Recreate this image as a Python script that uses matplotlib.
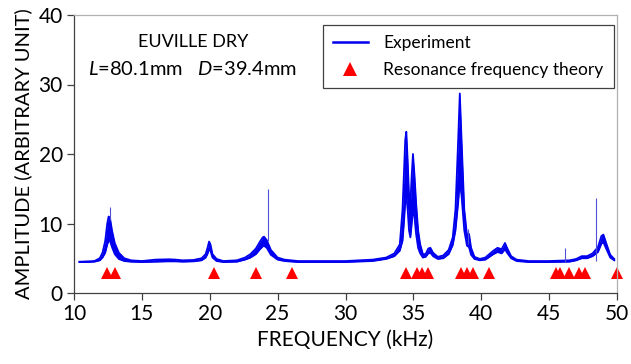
import matplotlib
matplotlib.use("Agg")
import matplotlib.pyplot as plt
from matplotlib.lines import Line2D

plt.rcParams['font.family'] = ['Lato', 'DejaVu Sans']
plt.rcParams['mathtext.fontset'] = 'custom'
plt.rcParams['mathtext.rm'] = 'Lato'
plt.rcParams['mathtext.it'] = 'Lato:italic'

# ---- data ----
freq_kHz = [10.4, 11.0, 11.5, 11.9, 12.1, 12.3, 12.45, 12.55, 12.65, 12.8, 13.0, 13.3, 13.7, 14.2,
            15, 16, 17, 17.5, 18, 18.8, 19.4, 19.7, 19.85, 19.95, 20.05, 20.2, 20.5, 21, 22, 22.6,
            23.0, 23.4, 23.7, 23.9, 24.0, 24.2, 24.5, 25.0, 25.5, 26.5, 28, 30, 32, 33, 33.6, 34.0,
            34.2, 34.3, 34.4, 34.48, 34.58, 34.68, 34.78, 34.88, 34.97, 35.08, 35.2, 35.35, 35.5,
            35.7, 35.9, 36.1, 36.25, 36.45, 36.8, 37.2, 37.6, 37.9, 38.1, 38.3, 38.42, 38.55, 38.75,
            38.95, 39.1, 39.25, 39.5, 39.9, 40.3, 40.6, 40.9, 41.2, 41.5, 41.75, 41.9, 42.2, 42.6,
            43.5, 45, 46.5, 47.0, 47.4, 47.8, 48.2, 48.6, 48.85, 49.0, 49.2, 49.5, 49.8]
amp_upper = [4.5, 4.55, 4.6, 5.0, 5.8, 7.5, 10.0, 11.0, 10.8, 9.0, 7.2, 5.8, 5.0, 4.7,
             4.6, 4.8, 4.85, 4.8, 4.7, 4.75, 5.0, 5.6, 6.6, 7.4, 7.0, 5.6, 4.9, 4.6, 4.7, 5.1,
             5.6, 6.4, 7.4, 8.0, 8.1, 7.6, 6.2, 5.1, 4.8, 4.6, 4.6, 4.6, 4.8, 5.1, 5.7, 7.0,
             12, 17, 22, 23.2, 19, 14, 13, 17, 20, 17, 13, 9, 7,
             5.6, 5.6, 6.4, 6.5, 5.8, 5.2, 5.4, 6.2, 8.0, 12, 22, 28.7, 22, 12,
             8.3, 8.5, 6.5, 5.2, 4.9, 5.1, 5.6, 6.1, 6.5, 6.3, 7.2, 6.5, 5.3, 4.8,
             4.6, 4.6, 4.7, 4.9, 5.3, 5.3, 5.7, 6.6, 8.2, 8.4, 7.2, 5.5, 4.9]
amp_lower = [4.45, 4.45, 4.5, 4.7, 5.1, 5.8, 7.0, 7.5, 7.5, 6.6, 5.6, 4.9, 4.6, 4.5,
             4.45, 4.5, 4.55, 4.55, 4.5, 4.55, 4.7, 5.1, 5.7, 6.3, 6.1, 5.1, 4.6, 4.45, 4.5, 4.8,
             5.1, 5.6, 6.3, 6.7, 6.8, 6.5, 5.5, 4.8, 4.6, 4.45, 4.45, 4.45, 4.6, 4.9, 5.3, 6.1,
             7.5, 10, 13, 14, 12, 9, 8, 10, 12, 11, 8.5, 6.5, 5.7,
             5.1, 5.2, 5.7, 5.8, 5.3, 4.9, 5.0, 5.6, 6.9, 9.0, 13, 16, 14, 9.0,
             6.8, 6.6, 5.5, 4.9, 4.7, 4.8, 5.2, 5.6, 5.9, 5.7, 6.3, 5.8, 5.0, 4.6,
             4.45, 4.45, 4.5, 4.7, 5.0, 5.0, 5.3, 5.9, 7.1, 7.3, 6.4, 5.1, 4.7]

# thin isolated spikes in the measured spectrum
spike_kHz = [12.62, 24.26, 39.05, 46.15, 48.45]
spike_top = [12.4, 15.0, 9.2, 6.5, 13.6]
spike_base = [10.5, 7.5, 7.0, 4.5, 4.6]

# theoretical resonance frequencies
theory_kHz = [12.41, 13.02, 20.32, 23.40, 26.03, 34.48, 35.26, 35.66, 36.05, 38.54, 38.96,
              39.37, 40.55, 45.47, 45.77, 46.50, 47.19, 47.63, 50.0]
theory_amp = [2.9] * len(theory_kHz)

x_ticks = [10, 15, 20, 25, 30, 35, 40, 45, 50]
y_ticks = [0, 10, 20, 30, 40]

# ---- figure ----
fig = plt.figure(figsize=(6.31, 3.64), dpi=100)
ax = fig.add_axes([74/631, 1-293/364, (617-74)/631, (293-15)/364])

blue = '#0000ee'
ax.fill_between(freq_kHz, amp_lower, amp_upper, color=blue, lw=0)
ax.plot(freq_kHz, amp_upper, color=blue, lw=1.3)
ax.plot(freq_kHz, amp_lower, color=blue, lw=1.3)
ax.vlines(spike_kHz, spike_base, spike_top, color='#5050d8', lw=0.8)
ax.plot(theory_kHz, theory_amp, linestyle='none', marker='^', color='#ff0000',
        markersize=9, markeredgewidth=0, clip_on=False)

ax.set_xlim(10, 50)
ax.set_ylim(0, 40)
ax.set_xticks(x_ticks)
ax.set_yticks(y_ticks)
ax.tick_params(direction='out', length=5, width=0.9, color='#404040',
               labelsize=15, pad=3, labelcolor='black')
for s in ['left', 'bottom']:
    ax.spines[s].set_color('#404040')
    ax.spines[s].set_linewidth(0.9)
for s in ['top', 'right']:
    ax.spines[s].set_color('#b0b0b0')
    ax.spines[s].set_linewidth(0.9)

ax.set_xlabel('FREQUENCY (kHz)', fontsize=15, labelpad=4)
ax.set_ylabel('AMPLITUDE (ARBITRARY UNIT)', fontsize=14.5, labelpad=5)

ax.text(0.2186, 0.904, 'EUVILLE DRY', transform=ax.transAxes, ha='center', va='center',
        fontsize=13)
ax.text(0.2186, 0.805, r'$\mathit{L}$=80.1mm   $\mathit{D}$=39.4mm', transform=ax.transAxes,
        ha='center', va='center', fontsize=14.5)

handles = [Line2D([], [], color=blue, lw=1.8),
           Line2D([], [], linestyle='none', marker='^', color='#ff0000', markersize=9.5,
                  markeredgewidth=0)]
leg = ax.legend(handles, ['Experiment', 'Resonance frequency theory'],
                loc='upper right', bbox_to_anchor=(1-3/543, 1-10/278), fontsize=12.5,
                frameon=True, fancybox=False, edgecolor='#404040', framealpha=1,
                borderpad=0.6, handlelength=2.0, labelspacing=0.6, handletextpad=0.9,
                borderaxespad=0)
leg.get_frame().set_linewidth(0.9)

fig.savefig('out.png', dpi=100)
